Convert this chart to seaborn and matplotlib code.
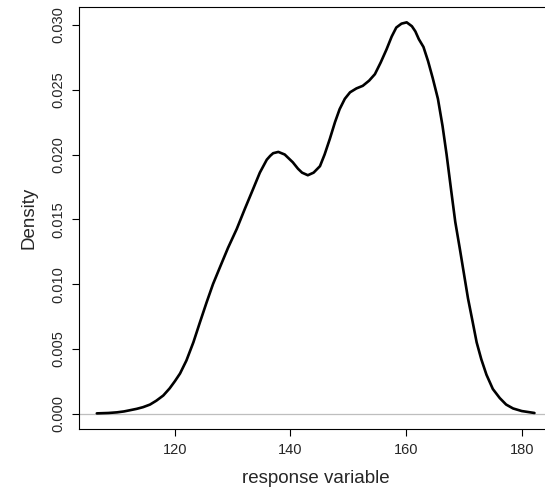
import matplotlib
matplotlib.use("Agg")
import matplotlib.pyplot as plt
import seaborn as sns
import pandas as pd

# Density curve (x = response variable, y = density).
density_x = [106.5, 108.5, 110.0, 111.2, 112.2, 113.4, 114.5, 115.7, 116.8, 118.0,
             119.1, 120.0, 120.9, 122.0, 123.2, 124.3, 125.5, 126.6, 127.8, 129.2,
             130.7, 132.1, 133.5, 134.7, 135.9, 136.5, 137.0, 137.9, 139.0, 139.7,
             140.4, 141.3, 142.0, 143.0, 144.0, 145.1, 145.9, 146.8, 147.7, 148.5,
             149.4, 150.3, 151.4, 152.5, 153.6, 154.6, 155.6, 156.6, 157.5, 158.3,
             159.2, 160.1, 161.0, 161.6, 162.2, 163.0, 163.8, 164.6, 165.5, 166.3,
             167.0, 167.8, 168.5, 169.3, 170.0, 170.7, 171.5, 172.2, 173.0, 173.9,
             175.0, 176.2, 177.3, 178.5, 180.0, 182.2]
density_y = [0.00002, 0.00005, 0.0001, 0.00017, 0.00026, 0.00037, 0.0005, 0.0007, 0.0010, 0.0014,
             0.00195, 0.0025, 0.0031, 0.0041, 0.0055, 0.0070, 0.0086, 0.0100, 0.0113, 0.0128,
             0.01425, 0.0158, 0.0173, 0.0186, 0.0196, 0.0199, 0.0201, 0.0202, 0.0200, 0.0197,
             0.0194, 0.0189, 0.0186, 0.0184, 0.0186, 0.0191, 0.0200, 0.0212, 0.0225, 0.0235,
             0.0243, 0.0248, 0.0251, 0.0253, 0.0257, 0.0262, 0.0271, 0.0281, 0.0291, 0.0298,
             0.0301, 0.0302, 0.0299, 0.0295, 0.0289, 0.0283, 0.0272, 0.0259, 0.0243, 0.0222,
             0.0200, 0.0172, 0.0148, 0.0127, 0.0108, 0.0089, 0.0071, 0.0055, 0.0042, 0.0030,
             0.0019, 0.0012, 0.0007, 0.0004, 0.0002, 0.00005]

x_ticks = [120, 140, 160, 180]
y_ticks = [0.000, 0.005, 0.010, 0.015, 0.020, 0.025, 0.030]

sns.set_style("ticks")
plt.rcParams['font.family'] = ['Liberation Sans', 'DejaVu Sans']

df = pd.DataFrame({'x': density_x, 'y': density_y})

fig = plt.figure(figsize=(5.45, 4.96), dpi=100)
ax = fig.add_axes([0.1455, 0.1345, 0.8673, 0.852])

# zero line like R's density plot
ax.axhline(0, color='#bebebe', lw=0.9, zorder=1)
sns.lineplot(data=df, x='x', y='y', color='black', lw=1.9, ax=ax, zorder=2)

# R-style limits: data range padded by 4%
xr = max(density_x) - min(density_x)
ax.set_xlim(min(density_x) - 0.04 * xr, max(density_x) + 0.04 * xr)
ymax = max(density_y)
ax.set_ylim(-0.04 * ymax, ymax * 1.04)

ax.set_xticks(x_ticks)
ax.set_xticklabels([str(t) for t in x_ticks])
ax.set_yticks(y_ticks)
ax.set_yticklabels([f"{t:.3f}" for t in y_ticks], rotation=90, va='center')

for s in ax.spines.values():
    s.set_color('black')
    s.set_linewidth(0.8)
    s.set_visible(True)

ax.tick_params(axis='both', direction='out', length=5, width=0.8, color='black',
               labelsize=10.5, pad=5)
ax.set_xlabel('response variable', fontsize=13.5, labelpad=9)
ax.set_ylabel('Density', fontsize=13.5, labelpad=10)

fig.savefig('out.png', dpi=100)
